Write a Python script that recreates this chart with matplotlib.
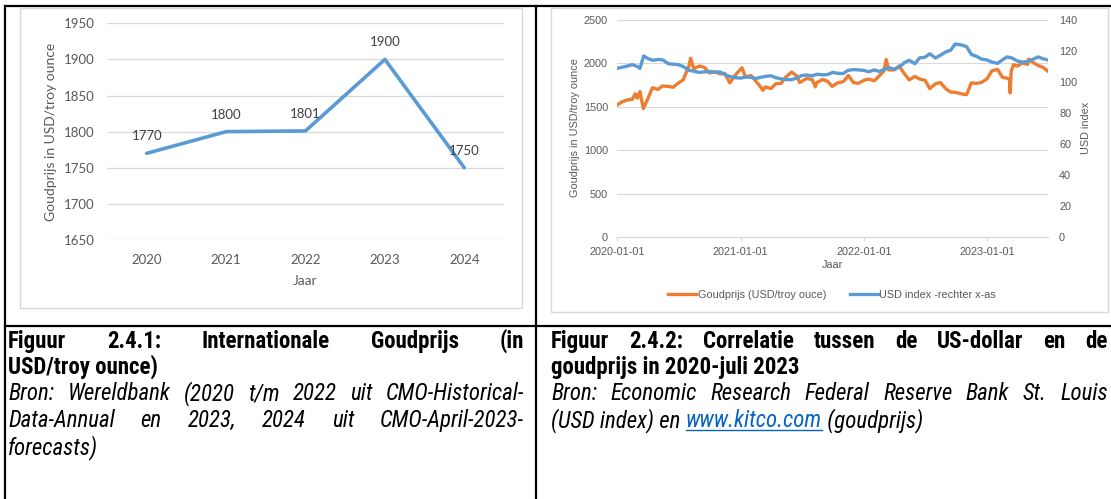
import matplotlib
matplotlib.use('Agg')
import matplotlib.pyplot as plt
from matplotlib import font_manager
from matplotlib.font_manager import FontProperties
from matplotlib.lines import Line2D
from matplotlib.patches import Rectangle
import pandas as pd

W, H = 1111, 499

# figuur 2.4.1
jaren = ['2020', '2021', '2022', '2023', '2024']
goudprijs_jaar = [1770, 1800, 1801, 1900, 1750]

goud_datum = [
    '2020-01-01', '2020-01-15', '2020-02-01', '2020-02-15', '2020-02-24', '2020-03-01',
    '2020-03-09', '2020-03-19', '2020-04-01', '2020-04-15', '2020-05-01', '2020-05-15',
    '2020-06-01', '2020-06-15', '2020-07-01', '2020-07-15', '2020-08-01', '2020-08-06',
    '2020-08-15', '2020-09-01', '2020-09-15', '2020-10-01', '2020-10-15', '2020-11-01',
    '2020-11-15', '2020-11-30', '2020-12-15', '2021-01-05', '2021-01-15', '2021-02-01',
    '2021-02-15', '2021-03-01', '2021-03-08', '2021-03-15', '2021-04-01', '2021-04-15',
    '2021-05-01', '2021-05-15', '2021-06-01', '2021-06-15', '2021-06-25', '2021-07-15',
    '2021-08-01', '2021-08-10', '2021-08-15', '2021-09-01', '2021-09-15', '2021-09-29',
    '2021-10-15', '2021-11-01', '2021-11-16', '2021-12-01', '2021-12-15', '2022-01-01',
    '2022-01-15', '2022-02-01', '2022-02-15', '2022-03-01', '2022-03-08', '2022-03-15',
    '2022-04-01', '2022-04-15', '2022-05-01', '2022-05-15', '2022-06-01', '2022-06-15',
    '2022-07-01', '2022-07-15', '2022-08-01', '2022-08-15', '2022-09-01', '2022-09-15',
    '2022-10-01', '2022-10-15', '2022-11-01', '2022-11-15', '2022-12-01', '2022-12-15',
    '2023-01-01', '2023-01-15', '2023-02-01', '2023-02-15', '2023-03-01', '2023-03-08',
    '2023-03-10', '2023-03-13', '2023-03-20', '2023-04-01', '2023-04-15', '2023-05-01',
    '2023-05-04', '2023-05-15', '2023-06-01', '2023-06-15', '2023-06-30',
]
goud_prijs = [
    1520, 1555, 1580, 1585, 1650, 1600,
    1675, 1480, 1590, 1720, 1700, 1740,
    1735, 1725, 1775, 1810, 1970, 2060,
    1940, 1970, 1955, 1890, 1905, 1880,
    1885, 1775, 1860, 1950, 1845, 1860,
    1795, 1730, 1690, 1730, 1710, 1765,
    1770, 1845, 1900, 1860, 1780, 1825,
    1815, 1730, 1780, 1815, 1795, 1735,
    1775, 1790, 1860, 1780, 1770, 1805,
    1820, 1800, 1855, 1910, 2045, 1925,
    1925, 1970, 1880, 1810, 1850, 1820,
    1805, 1710, 1765, 1780, 1705, 1670,
    1665, 1650, 1640, 1775, 1770, 1780,
    1825, 1915, 1930, 1840, 1830, 1815,
    1660, 1910, 1985, 1970, 2005, 1990,
    2050, 2015, 1975, 1955, 1910,
]

usd_datum = [
    '2020-01-01', '2020-01-15', '2020-02-01', '2020-02-15', '2020-03-01', '2020-03-09',
    '2020-03-20', '2020-04-01', '2020-04-15', '2020-05-01', '2020-05-15', '2020-06-01',
    '2020-06-15', '2020-07-01', '2020-07-15', '2020-08-01', '2020-08-15', '2020-09-01',
    '2020-09-15', '2020-10-01', '2020-10-15', '2020-11-01', '2020-11-15', '2020-12-01',
    '2020-12-15', '2021-01-01', '2021-01-15', '2021-02-01', '2021-02-15', '2021-03-01',
    '2021-03-15', '2021-04-01', '2021-04-15', '2021-05-01', '2021-05-15', '2021-06-01',
    '2021-06-15', '2021-07-01', '2021-07-15', '2021-08-01', '2021-08-15', '2021-09-01',
    '2021-09-15', '2021-10-01', '2021-10-15', '2021-11-01', '2021-11-15', '2021-12-01',
    '2021-12-15', '2022-01-01', '2022-01-15', '2022-02-01', '2022-02-15', '2022-03-01',
    '2022-03-15', '2022-04-01', '2022-04-15', '2022-05-01', '2022-05-15', '2022-06-01',
    '2022-06-15', '2022-07-01', '2022-07-15', '2022-08-01', '2022-08-15', '2022-09-01',
    '2022-09-15', '2022-09-28', '2022-10-15', '2022-11-01', '2022-11-15', '2022-12-01',
    '2022-12-15', '2023-01-01', '2023-01-15', '2023-02-01', '2023-02-15', '2023-03-01',
    '2023-03-15', '2023-04-01', '2023-04-15', '2023-05-01', '2023-05-15', '2023-06-01',
    '2023-06-15', '2023-06-30',
]
usd_index = [
    108.8, 109.5, 110.3, 111.2, 110.0, 108.8,
    116.8, 115.2, 114.0, 114.5, 114.3, 111.8,
    111.5, 111.2, 110.0, 107.5, 107.0, 106.2,
    106.5, 106.8, 106.3, 106.5, 104.8, 103.5,
    102.8, 102.5, 103.2, 103.0, 102.2, 103.0,
    103.6, 104.0, 102.8, 102.0, 101.6, 101.5,
    102.5, 104.2, 104.5, 104.0, 105.0, 104.6,
    104.8, 106.2, 105.6, 105.5, 107.5, 108.0,
    107.8, 107.5, 106.6, 107.8, 106.8, 108.0,
    109.3, 108.3, 109.5, 112.5, 114.0, 111.8,
    115.6, 116.0, 118.2, 115.5, 117.2, 119.5,
    120.5, 124.5, 124.0, 122.8, 117.8, 116.5,
    114.8, 114.2, 112.8, 112.0, 114.3, 116.2,
    115.5, 113.5, 112.8, 113.4, 114.5, 116.2,
    115.0, 114.2,
]
datum_ticks = ['2020-01-01', '2021-01-01', '2022-01-01', '2023-01-01']

GRIJS = '#595959'
RASTER = '#D9D9D9'
BLAUW = '#5B9BD5'
ORANJE = '#ED7D31'
EXCEL = 'Lato'
ARIAL = 'Liberation Sans'


def smalle_font(italic, bold, size):
    # zoek een smalle (narrow/condensed) letter, anders gewone Liberation Sans
    voorkeur = ['Liberation Sans Narrow', 'Roboto Condensed', 'Open Sans Condensed',
                'Noto Sans', 'Roboto', 'Open Sans', 'DejaVu Sans']
    doel = 700 if bold else 400
    gevonden = []
    for f in font_manager.fontManager.ttflist:
        stretch = f.stretch if isinstance(f.stretch, str) else 'normal'
        smal = ('Narrow' in f.name or 'Condensed' in f.name
                or stretch in ('condensed', 'semi-condensed'))
        if not smal:
            continue
        if (f.style in ('italic', 'oblique')) != italic:
            continue
        w = f.weight if isinstance(f.weight, int) else font_manager.weight_dict.get(f.weight, 400)
        if abs(w - doel) > 150:
            continue
        rang = voorkeur.index(f.name) if f.name in voorkeur else len(voorkeur)
        gevonden.append((rang, abs(w - doel), f.fname))
    if gevonden:
        gevonden.sort()
        return FontProperties(fname=gevonden[0][2], size=size)
    return FontProperties(family=ARIAL, weight='bold' if bold else 'normal',
                          style='italic' if italic else 'normal', size=size - 2.5)


def box(x0, y0, x1, y1):
    # pixel-box (van boven gemeten) naar figuur-coordinaten
    return [x0 / W, 1 - y1 / H, (x1 - x0) / W, (y1 - y0) / H]


fig = plt.figure(figsize=(W / 100, H / 100), dpi=100)
base = fig.add_axes([0, 0, 1, 1], zorder=0)
base.set_xlim(0, W)
base.set_ylim(H, 0)
base.axis('off')

# tabelranden
for (x0, y0, x1, y1) in [(5, 6, W, 6), (5, 6, 5, H), (536, 6, 536, H), (5, 326, W, 326)]:
    base.add_line(Line2D([x0, x1], [y0, y1], color='black', lw=1.6, solid_capstyle='projecting'))

# kaders van de grafieken
base.add_patch(Rectangle((20, 8), 502, 300, fill=False, ec=RASTER, lw=1))
base.add_patch(Rectangle((551, 8), 557, 304, fill=False, ec=RASTER, lw=1))

# ---------- figuur 2.4.1 ----------
ax1 = fig.add_axes(box(107, 23.3, 504, 240), zorder=1)
ax1.patch.set_alpha(0)
x = list(range(len(jaren)))
ax1.plot(x, goudprijs_jaar, color=BLAUW, lw=2.6, solid_joinstyle='round', solid_capstyle='round')
for i, v in zip(x, goudprijs_jaar):
    ax1.annotate(str(v), (i, v), xytext=(0, 12.3), textcoords='offset points',
                 ha='center', va='center', fontsize=9.5, family=EXCEL, color='#404040')
ax1.set_xlim(-0.5, len(jaren) - 0.5)
ax1.set_ylim(1650, 1950)
ax1.set_yticks(range(1650, 1951, 50))
ax1.set_xticks(x, jaren)
ax1.grid(axis='y', color=RASTER, lw=0.9)
ax1.set_axisbelow(True)
for s in ax1.spines.values():
    s.set_visible(False)
ax1.tick_params(length=0, labelsize=9.5, labelcolor=GRIJS)
ax1.tick_params(axis='y', pad=9)
ax1.tick_params(axis='x', pad=10)
for t in ax1.get_xticklabels() + ax1.get_yticklabels():
    t.set_family(EXCEL)
base.text(305, 281, 'Jaar', ha='center', va='center', fontsize=10, family=EXCEL, color=GRIJS)
base.text(51, 132, 'Goudprijs in USD/troy ounce', ha='center', va='center', rotation=90,
          fontsize=10, family=EXCEL, color=GRIJS)

# ---------- figuur 2.4.2 ----------
ax2 = fig.add_axes(box(617, 20, 1048, 237), zorder=1)
ax2.patch.set_alpha(0)
l1, = ax2.plot(pd.to_datetime(goud_datum), goud_prijs, color=ORANJE, lw=2.4)
ax3 = ax2.twinx()
l2, = ax3.plot(pd.to_datetime(usd_datum), usd_index, color=BLAUW, lw=2.4)
ax2.set_xlim(pd.Timestamp('2020-01-01'), pd.Timestamp('2023-06-30'))
ax2.set_ylim(0, 2500)
ax2.set_yticks(range(0, 2501, 500))
ax3.set_ylim(0, 140)
ax3.set_yticks(range(0, 141, 20))
ax2.set_xticks(pd.to_datetime(datum_ticks), datum_ticks)
ax2.grid(axis='y', color=RASTER, lw=0.8)
ax2.set_axisbelow(True)
for a in (ax2, ax3):
    for s in a.spines.values():
        s.set_visible(False)
ax2.spines['bottom'].set_visible(True)
ax2.spines['bottom'].set_color(RASTER)
ax2.spines['bottom'].set_linewidth(0.9)
ax2.tick_params(axis='x', length=3, color=RASTER, pad=4, labelsize=7.8, labelcolor=GRIJS)
ax2.tick_params(axis='y', length=0, pad=6.5, labelsize=7.8, labelcolor=GRIJS)
ax3.tick_params(axis='y', length=0, pad=8, labelsize=7.8, labelcolor=GRIJS)
for t in ax2.get_xticklabels() + ax2.get_yticklabels() + ax3.get_yticklabels():
    t.set_family(ARIAL)
base.text(832, 265, 'Jaar', ha='center', va='center', fontsize=7.8, family=ARIAL, color=GRIJS)
base.text(575, 128, 'Goudprijs in USD/troy ounce', ha='center', va='center', rotation=90,
          fontsize=7.8, family=ARIAL, color=GRIJS)
base.text(1086, 128, 'USD index', ha='center', va='center', rotation=90,
          fontsize=7.8, family=ARIAL, color=GRIJS)
ax3.legend([l1, l2], ['Goudprijs (USD/troy ouce)', 'USD index -rechter x-as'],
           loc='center', bbox_to_anchor=(832 / W, 1 - 295 / H), bbox_transform=fig.transFigure,
           ncol=2, frameon=False, handlelength=2.6, handletextpad=0.1, columnspacing=2.2,
           prop={'family': ARIAL, 'size': 7.8}, labelcolor=GRIJS)

# ---------- bijschriften ----------
r = fig.canvas.get_renderer()
bold_fp = smalle_font(False, True, 16.5)
ital_fp = smalle_font(True, False, 16.5)
BOLD = dict(fontproperties=bold_fp, color='black')
ITAL = dict(fontproperties=ital_fp, color='black')
LINK = dict(fontproperties=ital_fp, color='#0563C1')


def plaats(stukken, x0, y, x1=None):
    # stukken: lijst van (tekst, stijl); met x1 wordt de regel uitgevuld
    arts = [base.text(x0, y, t, va='baseline', ha='left', **kw) for t, kw in stukken]
    breedtes = [a.get_window_extent(r).width for a in arts]
    gat = 0
    if x1 is not None and len(arts) > 1:
        gat = (x1 - x0 - sum(breedtes)) / (len(arts) - 1)
    xp = x0
    for a, b in zip(arts, breedtes):
        a.set_x(xp)
        xp += b + gat
    return arts, breedtes


def woorden(tekst, stijl):
    return [(w, stijl) for w in tekst.split(' ')]


plaats(woorden('Figuur 2.4.1: Internationale Goudprijs (in', BOLD), 8, 348, 524)
plaats([('USD/troy ounce)', BOLD)], 8, 374)
plaats(woorden('Bron: Wereldbank (2020 t/m 2022 uit CMO-Historical-', ITAL), 8, 400, 524)
plaats(woorden('Data-Annual en 2023, 2024 uit CMO-April-2023-', ITAL), 8, 427, 524)
plaats([('forecasts)', ITAL)], 8, 454)

plaats(woorden('Figuur 2.4.2: Correlatie tussen de US-dollar en de', BOLD), 551, 348, 1108)
plaats([('goudprijs in 2020-juli 2023', BOLD)], 551, 374)
plaats(woorden('Bron: Economic Research Federal Reserve Bank St. Louis', ITAL), 551, 400, 1108)
arts, br = plaats([('(USD index) en ', ITAL), ('www.kitco.com', LINK), (' (goudprijs)', ITAL)], 551, 427)
lx = arts[1].get_position()[0]
base.add_line(Line2D([lx, lx + br[1]], [429.5, 429.5], color='#0563C1', lw=1))

fig.savefig('out.png', dpi=100)
